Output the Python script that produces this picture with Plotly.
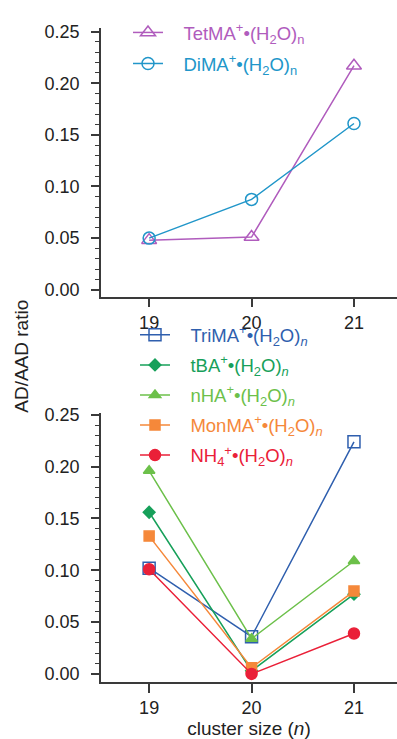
import plotly.graph_objects as go

x_sizes = [19, 20, 21]

# top panel
tetma = [0.048, 0.051, 0.217]
dima = [0.050, 0.0875, 0.161]

# bottom panel
trima = [0.102, 0.036, 0.224]
tba = [0.156, 0.003, 0.077]
nha = [0.196, 0.034, 0.109]
monma = [0.133, 0.006, 0.080]
nh4 = [0.101, 0.000, 0.039]

yticks = [0.00, 0.05, 0.10, 0.15, 0.20, 0.25]
ytick_labels = ["0.00", "0.05", "0.10", "0.15", "0.20", "0.25"]

FONT = "Liberation Sans, Arial, sans-serif"
AX = "#3a3a3a"
PAD = "&nbsp;&nbsp;&nbsp;"

fig = go.Figure()

def add(y, name, color, symbol, size, xa, ya, legend, group):
    fig.add_trace(go.Scatter(
        x=x_sizes, y=y, mode="lines+markers",
        name='%s<span style="color:%s">%s</span>' % (PAD, color, name),
        xaxis=xa, yaxis=ya, legend=legend, legendgroup=group,
        line=dict(color=color, width=1.5),
        marker=dict(symbol=symbol, size=size, color=color,
                    line=dict(color=color, width=1.5)),
        cliponaxis=False,
    ))

# bottom panel (legend2)
add(trima, "TriMA<sup>+</sup>•(H<sub>2</sub>O)<sub><i>n</i></sub>", "#2f5fae", "square-open", 12, "x2", "y2", "legend2", "g1")
add(tba, "tBA<sup>+</sup>•(H<sub>2</sub>O)<sub><i>n</i></sub>", "#17a05a", "diamond", 9, "x2", "y2", "legend2", "g2")
add(nha, "nHA<sup>+</sup>•(H<sub>2</sub>O)<sub><i>n</i></sub>", "#6cc04a", "triangle-up", 10, "x2", "y2", "legend2", "g3")
add(monma, "MonMA<sup>+</sup>•(H<sub>2</sub>O)<sub><i>n</i></sub>", "#f5883a", "square", 10, "x2", "y2", "legend2", "g4")
add(nh4, "NH<sub>4</sub><sup>+</sup>•(H<sub>2</sub>O)<sub><i>n</i></sub>", "#ea2038", "circle", 11, "x2", "y2", "legend2", "g5")

# top panel
add(tetma, "TetMA<sup>+</sup>•(H<sub>2</sub>O)<sub>n</sub>", "#b05cbd", "triangle-up-open", 13, "x", "y", "legend", "t1")
add(dima, "DiMA<sup>+</sup>•(H<sub>2</sub>O)<sub>n</sub>", "#2196c9", "circle-open", 12, "x", "y", "legend", "t2")

W, H = 397, 739
xdom = [101 / W, 1.0]
top_dom = [1 - 293 / H, 1 - 20 / H]
bot_dom = [1 - 684 / H, 1 - 411 / H]

xcommon = dict(range=[18.53, 21.42], tickvals=x_sizes, ticktext=["19", "20", "21"],
               showline=True, linecolor=AX, linewidth=1.5, ticks="outside", ticklen=9,
               tickwidth=1.5, tickcolor=AX, showgrid=False, zeroline=False,
               tickfont=dict(family=FONT, size=18, color="#222"), domain=xdom)
ycommon = dict(tickvals=yticks, ticktext=ytick_labels, showline=True, linecolor=AX, linewidth=1.5,
               ticks="outside", ticklen=8, tickwidth=1.5, tickcolor=AX, showgrid=False,
               zeroline=False, tickfont=dict(family=FONT, size=18, color="#222"),
               ticklabelstandoff=8,
               minor=dict(dtick=0.01, ticks="outside", ticklen=4, tickwidth=1, tickcolor=AX, showgrid=False))

fig.update_layout(
    width=W, height=H, margin=dict(l=0, r=0, t=0, b=0),
    paper_bgcolor="white", plot_bgcolor="white",
    font=dict(family=FONT, size=18),
    xaxis=dict(**xcommon, anchor="y"),
    yaxis=dict(**ycommon, range=[-0.0067, 0.2538], domain=top_dom, anchor="x"),
    xaxis2=dict(**xcommon, anchor="y2",
                title=dict(text="cluster size (<i>n</i>)", font=dict(family=FONT, size=19, color="#222"), standoff=8)),
    yaxis2=dict(**ycommon, range=[-0.0076, 0.2519], domain=bot_dom, anchor="x2"),
    legend=dict(x=128 / W, y=1 - 6 / H, xanchor="left", yanchor="top", bgcolor="rgba(0,0,0,0)",
                font=dict(family=FONT, size=18.5), tracegroupgap=4, traceorder="grouped"),
    legend2=dict(x=135 / W, y=1 - 313 / H, xanchor="left", yanchor="top", bgcolor="rgba(0,0,0,0)",
                 font=dict(family=FONT, size=18.5), tracegroupgap=3, traceorder="grouped"),
    showlegend=True,
    annotations=[dict(text="AD/AAD ratio", x=22 / W, y=1 - 354 / H, xref="paper", yref="paper",
                      xanchor="center", yanchor="middle",
                      textangle=-90, showarrow=False, font=dict(family=FONT, size=19, color="#222"))],
)

fig.write_html("out.html")
